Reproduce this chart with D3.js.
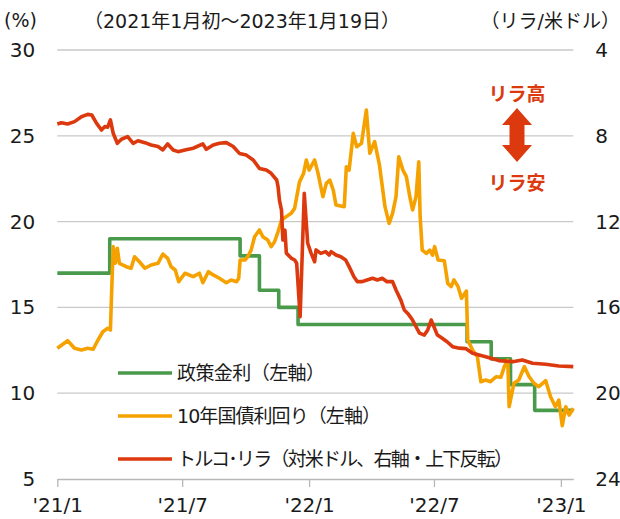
<!DOCTYPE html>
<html lang="ja">
<head>
  <meta charset="UTF-8">
  <title>トルコ 政策金利・国債利回り・リラ</title>
  <script src="https://d3js.org/d3.v7.min.js"></script>
  <style>
    body {
      margin: 0;
      background: #ffffff;
      overflow: hidden;
    }
    svg text {
      font-family: "DejaVu Sans", "Noto Sans CJK JP", sans-serif;
      fill: #1a1a1a;
    }
    .grid line {
      stroke: #c9c9c9;
      stroke-width: 1.3px;
    }
    .series {
      fill: none;
      stroke-width: 3.6px;
      stroke-linejoin: round;
    }
  </style>
</head>
<body>
  <svg id="chart" width="620" height="519"></svg>

  <script>
    // 政策金利 (%)
    const policyDates = ["2021-01-01", "2021-03-18", "2021-09-23", "2021-10-21", "2021-11-18", "2021-12-16",
                         "2022-08-18", "2022-09-22", "2022-10-20", "2022-11-24", "2023-01-19"];
    const policyRates = [17, 19, 18, 16, 15, 14, 13, 12, 10.5, 9, 9];

    // 10年国債利回り (%)
    const bondDates = ["2021-01-01", "2021-01-16", "2021-01-26", "2021-02-05", "2021-02-14", "2021-02-22",
      "2021-03-01", "2021-03-08", "2021-03-15", "2021-03-19", "2021-03-22", "2021-03-23", "2021-03-26",
      "2021-03-29", "2021-04-01", "2021-04-11", "2021-04-18", "2021-04-23", "2021-04-30", "2021-05-08",
      "2021-05-17", "2021-05-27", "2021-06-03", "2021-06-10", "2021-06-15", "2021-06-21", "2021-06-26",
      "2021-07-05", "2021-07-17", "2021-07-26", "2021-07-31", "2021-08-08", "2021-08-15", "2021-08-24",
      "2021-09-03", "2021-09-10", "2021-09-18", "2021-09-21", "2021-09-23", "2021-09-30", "2021-10-04",
      "2021-10-09", "2021-10-14", "2021-10-21", "2021-10-26", "2021-11-02", "2021-11-07", "2021-11-12",
      "2021-11-17", "2021-11-22", "2021-11-29", "2021-12-06", "2021-12-11", "2021-12-18", "2021-12-24",
      "2021-12-28", "2022-01-01", "2022-01-09", "2022-01-14", "2022-01-21", "2022-01-26", "2022-01-31",
      "2022-02-05", "2022-02-09", "2022-02-21", "2022-02-24", "2022-02-28", "2022-03-06", "2022-03-11",
      "2022-03-18", "2022-03-25", "2022-03-30", "2022-04-06", "2022-04-13", "2022-04-21", "2022-04-27",
      "2022-05-02", "2022-05-07", "2022-05-11", "2022-05-17", "2022-05-22", "2022-05-27", "2022-05-31",
      "2022-06-05", "2022-06-09", "2022-06-11", "2022-06-14", "2022-06-20", "2022-06-25", "2022-06-29",
      "2022-07-02", "2022-07-07", "2022-07-16", "2022-07-21", "2022-07-26", "2022-07-30", "2022-08-05",
      "2022-08-10", "2022-08-17", "2022-08-19", "2022-08-26", "2022-09-02", "2022-09-07", "2022-09-14",
      "2022-09-21", "2022-09-29", "2022-10-06", "2022-10-11", "2022-10-16", "2022-10-18", "2022-10-25",
      "2022-11-01", "2022-11-09", "2022-11-16", "2022-11-23", "2022-11-30", "2022-12-10", "2022-12-17",
      "2022-12-24", "2022-12-29", "2023-01-03", "2023-01-08", "2023-01-13", "2023-01-19"];
    const bondYields = [12.62, 13.06, 12.62, 12.52, 12.62, 12.56,
      13.10, 13.58, 13.78, 13.68, 17.37, 18.54, 17.57,
      18.44, 17.57, 17.37, 17.28, 17.95, 17.66, 17.28,
      17.47, 17.57, 18.11, 17.86, 17.37, 17.18, 16.50,
      16.99, 16.79, 16.99, 16.44, 17.08, 16.89, 16.70,
      16.44, 16.60, 16.50, 16.70, 17.76, 17.76, 17.95,
      18.34, 19.12, 19.51, 19.12, 18.93, 18.54, 18.83,
      19.41, 20.09, 20.29, 20.48, 20.77, 22.30, 22.81,
      23.59, 23.00, 23.59, 22.81, 21.45, 22.23, 22.42,
      21.84, 20.97, 20.87, 23.20, 23.00, 25.14, 24.36,
      24.56, 26.50, 23.98, 24.66, 23.30, 20.87, 19.90,
      20.48, 21.45, 23.78, 23.00, 22.62, 21.45, 20.68,
      21.45, 23.49, 20.29, 18.34, 18.15, 18.34, 18.05,
      18.54, 17.76, 17.72, 16.40, 16.21, 16.60, 16.21,
      15.53, 15.95, 13.10, 12.52, 12.13, 10.67, 10.77,
      10.67, 10.96, 10.93, 11.55, 11.93, 9.21, 10.58,
      10.77, 11.55, 10.96, 10.58, 10.38, 10.73, 9.79,
      9.21, 9.60, 8.10, 9.21, 8.73, 9.12];

    // トルコ・リラ (リラ/米ドル)
    const liraDates = ["2021-01-01", "2021-01-07", "2021-01-16", "2021-01-26", "2021-02-05", "2021-02-14",
      "2021-02-20", "2021-02-27", "2021-03-06", "2021-03-11", "2021-03-15", "2021-03-19", "2021-03-23",
      "2021-03-29", "2021-04-04", "2021-04-13", "2021-04-21", "2021-04-28", "2021-05-08", "2021-05-17",
      "2021-05-27", "2021-06-03", "2021-06-10", "2021-06-18", "2021-06-25", "2021-07-05", "2021-07-17",
      "2021-07-31", "2021-08-05", "2021-08-15", "2021-08-24", "2021-09-03", "2021-09-13", "2021-09-22",
      "2021-10-02", "2021-10-12", "2021-10-21", "2021-10-31", "2021-11-07", "2021-11-15", "2021-11-17",
      "2021-11-19", "2021-11-22", "2021-11-24", "2021-11-27", "2021-11-29", "2021-12-06", "2021-12-11",
      "2021-12-14", "2021-12-19", "2021-12-25", "2021-12-30", "2022-01-04", "2022-01-09", "2022-01-11",
      "2022-01-18", "2022-01-25", "2022-01-30", "2022-02-02", "2022-02-09", "2022-02-16", "2022-02-23",
      "2022-02-28", "2022-03-07", "2022-03-12", "2022-03-19", "2022-03-26", "2022-04-03", "2022-04-10",
      "2022-04-17", "2022-04-24", "2022-05-02", "2022-05-07", "2022-05-14", "2022-05-19", "2022-05-24",
      "2022-05-31", "2022-06-05", "2022-06-10", "2022-06-17", "2022-06-22", "2022-06-27", "2022-07-01",
      "2022-07-06", "2022-07-13", "2022-07-20", "2022-07-28", "2022-08-07", "2022-08-16", "2022-08-26",
      "2022-09-14", "2022-10-03", "2022-10-23", "2022-11-06", "2022-11-21", "2022-12-10", "2022-12-29",
      "2023-01-19"];
    const liraRates = [7.45, 7.39, 7.45, 7.34, 7.11, 7.00,
      7.03, 7.42, 7.73, 7.57, 7.60, 7.26, 7.88,
      8.35, 8.16, 8.04, 8.35, 8.23, 8.32, 8.43,
      8.50, 8.66, 8.38, 8.66, 8.74, 8.66, 8.58,
      8.38, 8.63, 8.43, 8.35, 8.32, 8.50, 8.82,
      8.90, 9.13, 9.52, 9.60, 9.75, 10.06, 10.37,
      11.00, 11.46, 12.86, 12.40, 13.47, 13.70, 13.79,
      13.94, 16.43, 10.68, 13.01, 13.48, 13.87, 13.32,
      13.48, 13.40, 13.56, 13.40, 13.56, 13.64, 13.79,
      14.10, 14.57, 14.80, 14.80, 14.72, 14.64, 14.72,
      14.64, 14.80, 14.80, 15.19, 15.66, 16.12, 16.28,
      16.59, 16.90, 17.20, 17.29, 17.05, 16.59, 16.90,
      17.29, 17.44, 17.60, 17.83, 17.90, 17.92, 18.14,
      18.30, 18.48, 18.53, 18.45, 18.60, 18.65, 18.73,
      18.76];

    const xTickDates = ["2021-01-01", "2021-07-01", "2022-01-01", "2022-07-01", "2023-01-01"];
    const xTickLabels = ["'21/1", "'21/7", "'22/1", "'22/7", "'23/1"];
    const leftTicks = [5, 10, 15, 20, 25, 30];
    const rightTicks = [4, 8, 12, 16, 20, 24];

    const legendLabels = ["政策金利（左軸）", "10年国債利回り（左軸）", "トルコ･リラ（対米ドル、右軸・上下反転）"];
    const legendWidths = [148, 204, 336];
    const colors = ["#4a9a4c", "#f5a200", "#dc3a0e"];

    const parse = d3.timeParse("%Y-%m-%d");
    const svg = d3.select("#chart");

    const plotLeft = 57.3, plotRight = 573.3, plotTop = 50, plotBottom = 479;

    const x = d3.scaleTime()
                .domain([parse("2021-01-01"), parse("2023-01-19")])
                .range([plotLeft, plotRight]);
    const yL = d3.scaleLinear().domain([5, 30]).range([plotBottom, plotTop]);
    const yR = d3.scaleLinear().domain([4, 24]).range([plotTop, plotBottom]);   // 上下反転

    // grid
    svg.append("g")
       .attr("class", "grid")
       .selectAll("line")
       .data(leftTicks.filter(d => d > 5))
       .enter()
       .append("line")
       .attr("x1", plotLeft).attr("x2", plotRight)
       .attr("y1", d => yL(d)).attr("y2", d => yL(d));

    // x axis
    const xAxis = d3.axisBottom(x)
                    .tickValues(xTickDates.map(parse))
                    .tickFormat((d, i) => xTickLabels[i])
                    .tickSize(8)
                    .tickSizeOuter(0)
                    .tickPadding(11);
    const gx = svg.append("g")
                  .attr("transform", `translate(0,${plotBottom})`)
                  .call(xAxis);
    gx.select(".domain").attr("stroke", "#b8b8b8").attr("stroke-width", 1.3);
    gx.selectAll(".tick line").attr("stroke", "#b8b8b8").attr("stroke-width", 1.3);
    gx.selectAll("text").attr("font-size", 20).attr("fill", "#1a1a1a");

    // left axis
    const gl = svg.append("g")
                  .attr("transform", `translate(${plotLeft},0)`)
                  .call(d3.axisLeft(yL).tickValues(leftTicks).tickSize(0).tickPadding(22));
    gl.select(".domain").remove();
    gl.selectAll("text").attr("font-size", 20).attr("fill", "#1a1a1a");

    // right axis
    const gr = svg.append("g")
                  .attr("transform", `translate(${plotRight},0)`)
                  .call(d3.axisRight(yR).tickValues(rightTicks).tickSize(0).tickPadding(22));
    gr.select(".domain").remove();
    gr.selectAll("text").attr("font-size", 20).attr("fill", "#1a1a1a");

    // series
    const stepLine = d3.line()
                       .x((d, i) => x(parse(policyDates[i])))
                       .y(d => yL(d))
                       .curve(d3.curveStepAfter);
    svg.append("path")
       .attr("class", "series")
       .attr("stroke", colors[0])
       .attr("d", stepLine(policyRates));

    const bondLine = d3.line()
                       .x((d, i) => x(parse(bondDates[i])))
                       .y(d => yL(d));
    svg.append("path")
       .attr("class", "series")
       .attr("stroke", colors[1])
       .attr("d", bondLine(bondYields));

    const liraLine = d3.line()
                       .x((d, i) => x(parse(liraDates[i])))
                       .y(d => yR(d));
    svg.append("path")
       .attr("class", "series")
       .attr("stroke", colors[2])
       .attr("d", liraLine(liraRates));

    // titles / units
    svg.append("text").attr("x", 4).attr("y", 27).attr("font-size", 19).text("(%)");
    svg.append("text").attr("x", 242).attr("y", 28).attr("font-size", 19)
       .attr("text-anchor", "middle").text("（2021年1月初～2023年1月19日）");
    svg.append("text").attr("x", 620).attr("y", 28).attr("font-size", 19)
       .attr("text-anchor", "end").text("（リラ/米ドル）");

    // legend
    const legend = svg.append("g")
                      .selectAll("g")
                      .data(legendLabels)
                      .enter()
                      .append("g")
                      .attr("transform", (d, i) => `translate(118,${373 + i * 43})`);
    legend.append("line")
          .attr("x1", 0).attr("x2", 54)
          .attr("stroke", (d, i) => colors[i])
          .attr("stroke-width", 3.6);
    legend.append("text")
          .attr("x", 59).attr("y", 7)
          .attr("font-size", 19)
          .attr("textLength", (d, i) => legendWidths[i])
          .attr("lengthAdjust", "spacing")
          .text(d => d);

    // リラ高 / リラ安 annotation
    const ax = 517;
    svg.append("text").attr("x", ax).attr("y", 101).attr("font-size", 19)
       .attr("font-weight", "bold").attr("text-anchor", "middle")
       .style("fill", colors[2]).text("リラ高");
    svg.append("text").attr("x", ax).attr("y", 190).attr("font-size", 19)
       .attr("font-weight", "bold").attr("text-anchor", "middle")
       .style("fill", colors[2]).text("リラ安");
    const p = d3.path();
    p.moveTo(ax, 108);
    p.lineTo(ax + 15, 125);
    p.lineTo(ax + 7.5, 125);
    p.lineTo(ax + 7.5, 145);
    p.lineTo(ax + 15, 145);
    p.lineTo(ax, 162);
    p.lineTo(ax - 15, 145);
    p.lineTo(ax - 7.5, 145);
    p.lineTo(ax - 7.5, 125);
    p.lineTo(ax - 15, 125);
    p.closePath();
    svg.append("path").attr("d", p.toString()).attr("fill", colors[2]);
  </script>
</body>
</html>
